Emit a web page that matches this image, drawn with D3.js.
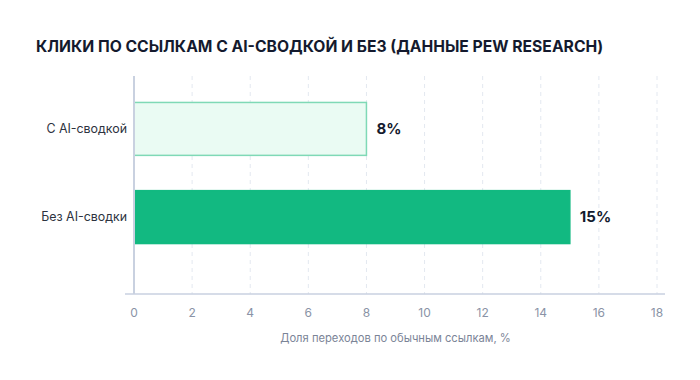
<!DOCTYPE html>
<html>
<head>
<meta charset="utf-8">
<script src="https://cdn.jsdelivr.net/npm/d3@7"></script>
<style>
  body { margin: 0; background: #fff; }
  svg { font-family: Inter, "Noto Sans", sans-serif; }
</style>
</head>
<body>
<svg id="chart" width="700" height="380"></svg>
<script>
// Data (Pew Research)
const categories = ['С AI-сводкой', 'Без AI-сводки'];
const values = [8, 15];
const valueLabels = ['8%', '15%'];
const xTicks = [0, 2, 4, 6, 8, 10, 12, 14, 16, 18];

const title = 'КЛИКИ ПО ССЫЛКАМ С AI-СВОДКОЙ И БЕЗ (ДАННЫЕ PEW RESEARCH)';
const xTitle = 'Доля переходов по обычным ссылкам, %';

const svg = d3.select('#chart');

// layout
const plotLeft = 134, plotRight = 657, plotTop = 76, plotBottom = 294;

const x = d3.scaleLinear().domain([0, 18]).range([plotLeft, plotRight]);
const y = d3.scaleBand()
    .domain(categories)
    .range([plotTop, 270])
    .paddingInner(0.4)
    .paddingOuter(0.3);

// title
svg.append('text')
    .attr('x', 36)
    .attr('y', 52)
    .attr('fill', '#141a2e')
    .attr('font-size', 15.7)
    .attr('font-weight', 700)
    .text(title);

// dashed gridlines
svg.append('g')
    .selectAll('line')
    .data(xTicks.slice(1))
    .join('line')
    .attr('x1', d => x(d))
    .attr('x2', d => x(d))
    .attr('y1', plotTop)
    .attr('y2', plotBottom)
    .attr('stroke', '#e3e8f0')
    .attr('stroke-width', 1)
    .attr('stroke-dasharray', '4,4');

// bars
svg.append('g')
    .selectAll('rect')
    .data(values)
    .join('rect')
    .attr('x', x(0))
    .attr('y', (d, i) => y(categories[i]))
    .attr('width', d => x(d) - x(0))
    .attr('height', y.bandwidth())
    .attr('fill', (d, i) => i === 0 ? '#eafbf3' : '#12b981')
    .attr('stroke', (d, i) => i === 0 ? '#7fd9b6' : '#12b981')
    .attr('stroke-width', 1.5);

// value labels
svg.append('g')
    .selectAll('text')
    .data(values)
    .join('text')
    .attr('x', d => x(d) + 10)
    .attr('y', (d, i) => y(categories[i]) + y.bandwidth() / 2)
    .attr('dy', '0.35em')
    .attr('fill', '#141a2e')
    .attr('font-size', 15)
    .attr('font-weight', 700)
    .text((d, i) => valueLabels[i]);

// category labels
svg.append('g')
    .selectAll('text')
    .data(categories)
    .join('text')
    .attr('x', plotLeft - 7)
    .attr('y', d => y(d) + y.bandwidth() / 2)
    .attr('dy', '0.35em')
    .attr('text-anchor', 'end')
    .attr('fill', '#2d3340')
    .attr('font-size', 12.4)
    .text(d => d);

// axis lines
svg.append('line')
    .attr('x1', plotLeft).attr('x2', plotLeft)
    .attr('y1', plotTop).attr('y2', plotBottom)
    .attr('stroke', '#c9d1e0').attr('stroke-width', 2);

svg.append('line')
    .attr('x1', plotLeft - 9).attr('x2', plotRight + 8)
    .attr('y1', plotBottom).attr('y2', plotBottom)
    .attr('stroke', '#c9d1e0').attr('stroke-width', 1.5);

// x tick labels
svg.append('g')
    .selectAll('text')
    .data(xTicks)
    .join('text')
    .attr('x', d => x(d))
    .attr('y', 317)
    .attr('text-anchor', 'middle')
    .attr('fill', '#8a93a6')
    .attr('font-size', 12)
    .text(d => d);

// x axis title
svg.append('text')
    .attr('x', (plotLeft + plotRight) / 2)
    .attr('y', 342)
    .attr('text-anchor', 'middle')
    .attr('fill', '#7b8497')
    .attr('font-size', 11.2)
    .text(xTitle);
</script>
</body>
</html>
